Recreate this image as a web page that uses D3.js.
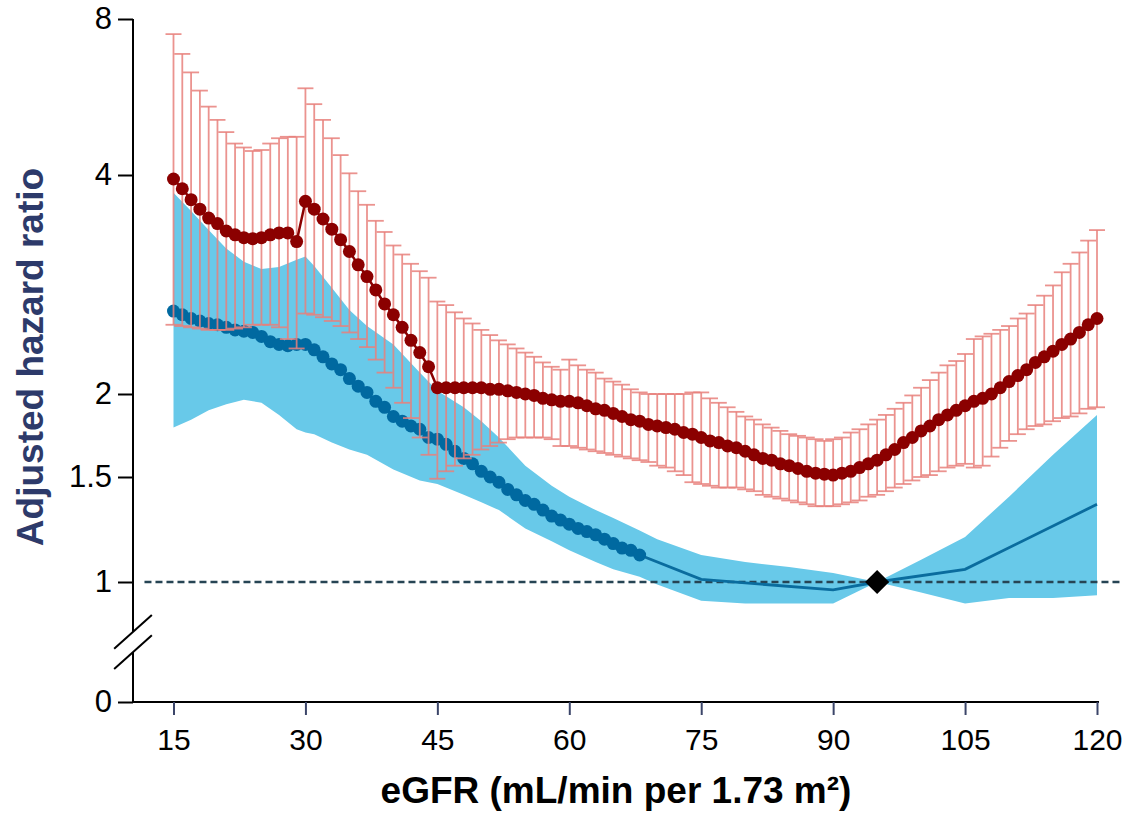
<!DOCTYPE html>
<html>
<head>
<meta charset="utf-8">
<script src="https://cdn.jsdelivr.net/npm/d3@7"></script>
<style>
  body { margin: 0; background: #fff; }
  svg { display: block; }
  text { font-family: "Liberation Sans", Arial, sans-serif; }
</style>
</head>
<body>
<svg id="chart" width="1127" height="815"></svg>
<script>
// eGFR values (mL/min per 1.73 m²) for the per-unit estimates
const eGFR = [15,16,17,18,19,20,21,22,23,24,25,26,27,28,29,30,31,32,33,34,35,36,37,38,39,40,
  41,42,43,44,45,46,47,48,49,50,51,52,53,54,55,56,57,58,59,60,61,62,63,64,65,66,67,68,69,70,
  71,72,73,74,75,76,77,78,79,80,81,82,83,84,85,86,87,88,89,90,91,92,93,94,95,96,97,98,99,100,
  101,102,103,104,105,106,107,108,109,110,111,112,113,114,115,116,117,118,119,120];

// Red series: adjusted hazard ratio with 95% CI
const redHR = [3.95,3.83,3.70,3.59,3.49,3.43,3.35,3.31,3.28,3.27,
  3.28,3.31,3.33,3.33,3.24,
  3.68,3.59,3.48,3.37,3.26,3.14,3.01,2.90,2.78,2.66,
  2.57,2.47,2.37,2.28,2.18,2.04,2.04,2.04,2.04,2.04,
  2.04,2.03,2.03,2.02,2.01,2.00,1.99,1.97,1.96,1.95,
  1.95,1.94,1.92,1.90,1.89,1.87,1.85,1.83,1.82,1.80,
  1.79,1.78,1.77,1.75,1.74,1.72,1.70,1.69,1.67,1.66,
  1.64,1.62,1.60,1.59,1.57,1.56,1.545,1.53,1.52,1.515,
  1.51,1.52,1.53,1.55,1.57,1.59,1.62,1.65,1.69,1.72,
  1.76,1.79,1.83,1.86,1.89,1.92,1.95,1.97,2.00,2.04,
  2.08,2.12,2.16,2.21,2.25,2.29,2.34,2.38,2.43,2.49,
  2.54];
const redUpper = [7.48,6.85,6.31,5.82,5.42,5.11,4.84,4.60,4.52,4.45,
  4.47,4.60,4.71,4.74,4.74,
  5.88,5.48,5.11,4.71,4.37,4.03,3.80,3.64,3.46,3.34,
  3.20,3.11,3.02,2.95,2.89,2.68,2.65,2.59,2.54,2.50,
  2.45,2.41,2.37,2.34,2.31,2.28,2.25,2.21,2.18,2.16,
  2.23,2.19,2.16,2.14,2.10,2.08,2.06,2.03,2.01,2.00,
  2.00,2.00,2.00,2.00,2.01,2.01,1.97,1.94,1.91,1.88,
  1.85,1.83,1.80,1.78,1.76,1.74,1.73,1.72,1.71,1.70,
  1.71,1.72,1.75,1.77,1.80,1.83,1.86,1.90,1.94,1.99,
  2.04,2.09,2.14,2.19,2.22,2.27,2.38,2.40,2.42,2.45,
  2.48,2.54,2.58,2.65,2.73,2.82,2.94,3.02,3.13,3.25,
  3.36];
const redLower = [2.49,2.48,2.47,2.46,2.45,2.45,2.45,2.46,2.47,2.49,
  2.49,2.49,2.47,2.38,2.31,
  2.58,2.57,2.55,2.52,2.48,2.43,2.38,2.32,2.23,2.14,
  2.04,1.94,1.84,1.72,1.62,1.49,1.53,1.56,1.60,1.62,
  1.65,1.67,1.69,1.71,1.72,1.72,1.72,1.72,1.71,1.67,
  1.67,1.66,1.65,1.64,1.63,1.62,1.61,1.60,1.59,1.58,
  1.56,1.55,1.53,1.51,1.47,1.46,1.45,1.44,1.44,1.44,
  1.43,1.42,1.40,1.39,1.38,1.37,1.36,1.35,1.34,1.34,
  1.34,1.35,1.36,1.37,1.39,1.40,1.42,1.44,1.46,1.48,
  1.50,1.51,1.53,1.55,1.56,1.57,1.55,1.56,1.61,1.66,
  1.70,1.74,1.77,1.79,1.80,1.82,1.84,1.85,1.87,1.90,
  1.91];

// Blue series: per-unit estimates (eGFR 15–68)
const blueHR = [2.60,2.57,2.54,2.52,2.50,2.49,2.47,2.45,2.44,2.43,
  2.40,2.36,2.34,2.33,2.34,2.34,2.30,2.25,2.20,2.16,
  2.10,2.05,2.01,1.95,1.91,1.85,1.82,1.79,1.77,1.72,
  1.71,1.68,1.64,1.60,1.57,1.53,1.50,1.47,1.43,1.40,
  1.37,1.35,1.32,1.29,1.27,1.25,1.23,1.215,1.20,1.18,
  1.16,1.14,1.13,1.11];
// Blue series continued as a spline fit beyond the dotted range
const blueLineX = [68, 75, 90, 95, 105, 120];
const blueLineHR = [1.11, 1.01, 0.97, 1.00, 1.05, 1.35];

// Blue confidence band
const bandX = [15,17,19,21,23,25,27,29,30,31,33,35,37,40,43,45,48,50,52,55,58,60,63,65,68,70,
  75,80,85,90,95,100,105,110,115,120];
const bandUpper = [3.78,3.57,3.36,3.17,3.04,2.97,2.99,3.06,3.09,3.00,2.80,2.61,2.48,2.34,2.14,2.02,
  1.91,1.82,1.72,1.56,1.45,1.39,1.32,1.28,1.22,1.18,1.11,1.08,1.06,1.035,1.00,1.09,1.19,1.39,1.62,1.86];
const bandLower = [1.78,1.83,1.89,1.93,1.96,1.94,1.86,1.77,1.75,1.74,1.69,1.65,1.62,1.54,1.48,1.46,
  1.40,1.36,1.32,1.23,1.17,1.13,1.08,1.05,1.02,0.99,0.93,0.92,0.92,0.92,1.00,0.96,0.92,0.94,0.94,0.95];

// Reference category and reference line
const referenceEGFR = 95;
const referenceHR = 1;
const refLineSpan = [11.7, 122.8];

// Axis ticks
const xTicks = [15, 30, 45, 60, 75, 90, 105, 120];
const yTicks = [1, 1.5, 2, 4, 8];
const yBaseTick = [0];

const svg = d3.select("#chart");

const axisX0 = 133;      // position of the vertical axis line
const axisY0 = 702;      // position of the horizontal axis line

const x = d3.scaleLinear().domain([15, 120]).range([173.5, 1097]);
// log-spaced, piecewise y axis above the break
const y = d3.scaleLog().domain([1, 1.5, 2, 4, 8]).range([582, 477, 394, 175, 19]);
// linear segment below the break, holding only the zero tick
const yBase = d3.scaleLinear().domain([0, 1]).range([axisY0, 582]);

const redColor = "#8b0000";
const barColor = "#e8807b";
const blueDot = "#0069a0";
const bandColor = "#68c9e9";
const dotR = 6.5;
const capHalf = 8;

// --- Confidence band ---
const band = bandX.map((d, i) => ({ x: d, lo: bandLower[i], hi: bandUpper[i] }));
svg.append("path")
  .datum(band)
  .attr("fill", bandColor)
  .attr("d", d3.area().x(d => x(d.x)).y0(d => y(d.lo)).y1(d => y(d.hi)));

// --- Reference line at HR = 1 ---
svg.append("line")
  .attr("x1", x(refLineSpan[0])).attr("x2", x(refLineSpan[1]))
  .attr("y1", y(referenceHR)).attr("y2", y(referenceHR))
  .attr("stroke", "#264454").attr("stroke-width", 2.5)
  .attr("stroke-dasharray", "7,4");

// --- Blue series ---
const blueDots = blueHR.map((v, i) => ({ x: eGFR[i], v }));
const blueTail = blueLineX.map((d, i) => ({ x: d, v: blueLineHR[i] }));
const lineGen = d3.line().x(d => x(d.x)).y(d => y(d.v));
svg.append("path").datum(blueTail)
  .attr("fill", "none").attr("stroke", "#0a6c9e").attr("stroke-width", 2.8)
  .attr("d", lineGen);
svg.append("path").datum(blueDots)
  .attr("fill", "none").attr("stroke", blueDot).attr("stroke-width", 3)
  .attr("d", lineGen);
svg.append("g").selectAll("circle").data(blueDots).join("circle")
  .attr("cx", d => x(d.x)).attr("cy", d => y(d.v)).attr("r", dotR)
  .attr("fill", blueDot);

// --- Red series: error bars ---
const red = eGFR.map((d, i) => ({ x: d, v: redHR[i], lo: redLower[i], hi: redUpper[i] }));
const bars = svg.append("g")
  .attr("stroke", barColor).attr("stroke-width", 1.8).attr("stroke-opacity", 0.85);
bars.selectAll("line.stem").data(red).join("line").attr("class", "stem")
  .attr("x1", d => x(d.x)).attr("x2", d => x(d.x))
  .attr("y1", d => y(d.hi)).attr("y2", d => y(d.lo));
bars.selectAll("line.capHi").data(red).join("line").attr("class", "capHi")
  .attr("x1", d => x(d.x) - capHalf).attr("x2", d => x(d.x) + capHalf)
  .attr("y1", d => y(d.hi)).attr("y2", d => y(d.hi));
bars.selectAll("line.capLo").data(red).join("line").attr("class", "capLo")
  .attr("x1", d => x(d.x) - capHalf).attr("x2", d => x(d.x) + capHalf)
  .attr("y1", d => y(d.lo)).attr("y2", d => y(d.lo));

// --- Red series: estimates ---
svg.append("path").datum(red)
  .attr("fill", "none").attr("stroke", redColor).attr("stroke-width", 2.5)
  .attr("d", lineGen);
svg.append("g").selectAll("circle").data(red).join("circle")
  .attr("cx", d => x(d.x)).attr("cy", d => y(d.v)).attr("r", dotR)
  .attr("fill", redColor);

// --- Reference point ---
svg.append("path")
  .attr("d", d3.symbol(d3.symbolSquare, 290)())
  .attr("transform", `translate(${x(referenceEGFR)},${y(referenceHR)}) rotate(45)`)
  .attr("fill", "#000");

// --- Axes ---
const axisG = svg.append("g");
// y axis line
axisG.append("line")
  .attr("x1", axisX0).attr("x2", axisX0)
  .attr("y1", y(8)).attr("y2", axisY0)
  .attr("stroke", "#000").attr("stroke-width", 2);
// x axis line
axisG.append("line")
  .attr("x1", axisX0 - 1).attr("x2", x(120) + 2)
  .attr("y1", axisY0).attr("y2", axisY0)
  .attr("stroke", "#000").attr("stroke-width", 2);

function styleAxis(g, tickColor, size) {
  g.select(".domain").remove();
  g.selectAll(".tick line").attr("stroke", tickColor).attr("stroke-width", 2);
  g.selectAll(".tick text").attr("fill", "#000")
    .style("font-size", size + "px")
    .style("font-family", "'Liberation Sans', Arial, sans-serif");
}

svg.append("g")
  .attr("transform", `translate(${axisX0},0)`)
  .call(d3.axisLeft(y).tickValues(yTicks).tickFormat(d => String(d)).tickSize(15).tickPadding(6))
  .call(g => styleAxis(g, "#000", 31));
svg.append("g")
  .attr("transform", `translate(${axisX0},0)`)
  .call(d3.axisLeft(yBase).tickValues(yBaseTick).tickFormat(d => String(d)).tickSize(15).tickPadding(6))
  .call(g => styleAxis(g, "#000", 31));
svg.append("g")
  .attr("transform", `translate(0,${axisY0})`)
  .call(d3.axisBottom(x).tickValues(xTicks).tickFormat(d => String(d)).tickSize(13).tickPadding(14))
  .call(g => styleAxis(g, "#3b4569", 30));

// --- Axis break between 0 and 1 ---
const breakMid = (y(1) + yBase(0)) / 2;
const gapHalf = 10.2, dx = 18.85, dy = 16.85;
svg.append("polygon")
  .attr("points", [
    [axisX0 - dx, breakMid - gapHalf + dy], [axisX0 + dx, breakMid - gapHalf - dy],
    [axisX0 + dx, breakMid + gapHalf - dy], [axisX0 - dx, breakMid + gapHalf + dy]
  ].map(p => p.join(",")).join(" "))
  .attr("fill", "#fff");
[-gapHalf, gapHalf].forEach(off => {
  svg.append("line")
    .attr("x1", axisX0 - dx).attr("y1", breakMid + off + dy)
    .attr("x2", axisX0 + dx).attr("y2", breakMid + off - dy)
    .attr("stroke", "#000").attr("stroke-width", 2);
});

// --- Axis titles ---
svg.append("text")
  .attr("transform", `translate(43,357) rotate(-90)`)
  .attr("text-anchor", "middle")
  .attr("fill", "#2d3a6a")
  .style("font-weight", "bold").style("font-size", "37px")
  .text("Adjusted hazard ratio");

svg.append("text")
  .attr("x", 616).attr("y", 803)
  .attr("text-anchor", "middle")
  .attr("fill", "#000")
  .style("font-weight", "bold").style("font-size", "37px")
  .text("eGFR (mL/min per 1.73 m²)");
</script>
</body>
</html>
